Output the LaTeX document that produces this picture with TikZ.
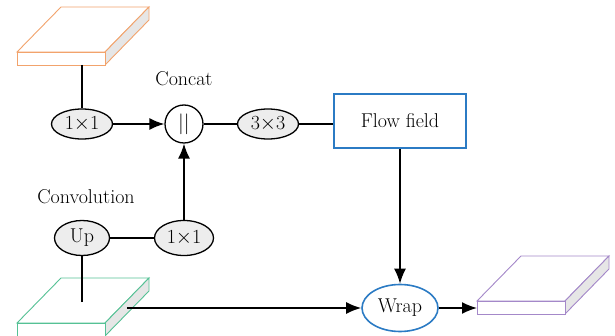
\documentclass[tikz,border=0pt]{standalone}
\usetikzlibrary{arrows.meta,shapes.geometric}

\definecolor{slaborange}{HTML}{F2A36C}
\definecolor{slabgreen}{HTML}{55C195}
\definecolor{slabpurple}{HTML}{A488C9}
\definecolor{slabside}{HTML}{E6E6E6}
\definecolor{flowblue}{HTML}{2B7BC4}
\definecolor{opfill}{HTML}{EDEDED}

% feature map drawn as a flat slab: #1,#2 = top left of the front face
\newcommand{\featslab}[3]{%
	\filldraw[draw=#3, fill=white, line width=0.9pt] (#1,#2) -- ++(44,-45) -- ++(88,0) -- ++(-44,45) -- cycle;
	\filldraw[draw=#3, fill=slabside, line width=0.9pt] (#1+88,#2) -- ++(44,-45) -- ++(0,13) -- ++(-44,45) -- cycle;
	\filldraw[draw=#3, fill=white, line width=0.9pt] (#1,#2) rectangle ++(88,13);
}

\begin{document}
\begin{tikzpicture}[x=1pt, y=-1pt, font=\fontsize{20}{24}\selectfont,
		line width=1.6pt, >={Latex[length=15pt,width=12pt]},
		op/.style={ellipse, draw, fill=opfill, inner sep=0pt, line width=1.3pt}]
		\useasboundingbox (0,0) rectangle (615,336);

		% input, skip and output feature maps
		\featslab{17}{52}{slaborange}
		\featslab{17}{323}{slabgreen}
		\featslab{477}{301}{slabpurple}
		\coordinate (topout) at (82,65);
		\coordinate (greenin) at (82,302);
		\coordinate (greenout) at (127,308);
		\coordinate (purplein) at (477,308);

		\node[op, minimum width=61pt, minimum height=30pt] (conv1) at (82,124) {1$\times$1};
		\node[circle, draw, fill=white, minimum size=38pt, inner sep=0pt, line width=1.3pt] (cat) at (184,124) {$||$};
		\node (catlbl) at (184,79) {Concat};
		\node[op, minimum width=61pt, minimum height=30pt] (conv3) at (268,124) {3$\times$3};
		\node[draw=flowblue, minimum width=132pt, minimum height=54pt] (flow) at (400,121) {Flow field};

		\node (convlbl) at (86,197) {Convolution};
		\node[op, minimum width=55pt, minimum height=35pt] (up) at (82,238) {Up};
		\node[op, minimum width=59pt, minimum height=35pt] (conv2) at (184,238) {1$\times$1};
		\node[ellipse, draw=flowblue, fill=white, inner sep=0pt, minimum width=76pt, minimum height=47pt] (wrap) at (400,308) {Wrap};

		\draw (topout) -- (conv1);
		\draw[->] (conv1) -- (cat);
		\draw (cat) -- (conv3);
		\draw (conv3) -- (conv3 -| flow.west);
		\draw (greenin) -- (up);
		\draw (up) -- (conv2);
		\draw[->] (conv2) -- (cat);
		\draw[->] (flow) -- (wrap);
		\draw[->] (greenout) -- (wrap);
		\draw[->] (wrap) -- (purplein);
\end{tikzpicture}
\end{document}
